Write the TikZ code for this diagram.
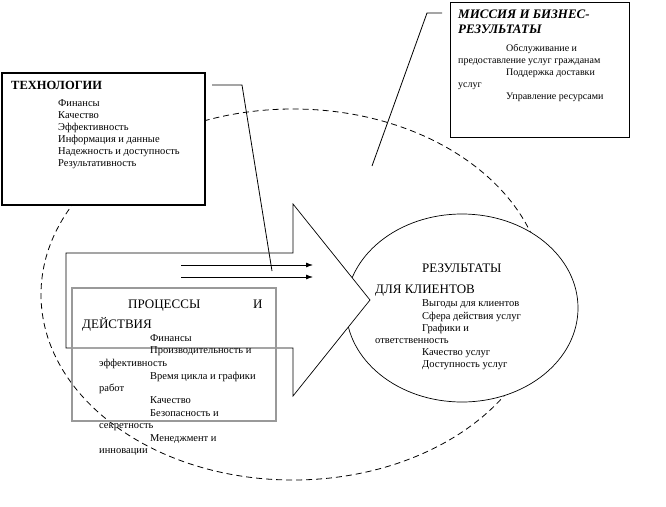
\documentclass[tikz,border=0pt]{standalone}
\usepackage{fontspec}
\setmainfont{Liberation Serif}
\usetikzlibrary{arrows.meta,shapes.geometric}
\tikzset{
  item/.style={anchor=base west, inner sep=0pt, font=\fontsize{10.5}{12}\selectfont},
  mitem/.style={anchor=base west, inner sep=0pt, font=\fontsize{10}{12}\selectfont},
  ttl/.style={anchor=base west, inner sep=0pt, font=\fontsize{13}{15}\selectfont},
  boxtitle/.style={anchor=base west, inner sep=0pt, font=\fontsize{12.5}{14}\selectfont\bfseries},
  misstitle/.style={anchor=base west, inner sep=0pt, font=\fontsize{13}{15}\selectfont\bfseries\itshape},
  frame/.style={draw, fill=white, rectangle, inner sep=0pt},
  conn/.style={draw, line width=0.8pt},
  flow/.style={draw, line width=0.8pt, -{Latex[length=7pt,width=5pt]}},
}
\begin{document}
\begin{tikzpicture}[x=1pt,y=-1pt]
\useasboundingbox (0,0) rectangle (666,506);
% big dashed ellipse
\draw[line width=0.8pt, dash pattern=on 6pt off 4pt] (293,294.5) ellipse [x radius=252pt, y radius=185.5pt];
% boxes
\node[frame, line width=1.1pt, minimum width=203pt, minimum height=132pt] (tech) at (103.5,139) {};
\node[frame, line width=1pt, minimum width=179pt, minimum height=135pt] (miss) at (539.5,69.5) {};
\node[ellipse, draw, fill=white, line width=0.7pt, minimum width=232pt, minimum height=188pt, inner sep=0pt] (res) at (462,308) {};
% big arrow
\draw[fill=white, line width=0.7pt] (66,253) -- (293,253) -- (293,204) -- (370,300) -- (293,396) -- (293,348) -- (66,348) -- cycle;
\node[draw=black!40, line width=1.2pt, rectangle, inner sep=0pt, minimum width=204pt, minimum height=133pt] (proc) at (174,354.5) {};
% connectors
\coordinate (t1) at (212,85);
\coordinate (t2) at (242,85);
\coordinate (t3) at (272,271);
\draw[conn] (t1) -- (t2) -- (t3);
\coordinate (m1) at (442,13);
\coordinate (m2) at (427,13);
\coordinate (m3) at (372,166);
\draw[conn] (m1) -- (m2) -- (m3);
\coordinate (a1) at (181,265);
\coordinate (b1) at (313,265);
\coordinate (a2) at (181,277);
\coordinate (b2) at (313,277);
\draw[flow] (a1) -- (b1);
\draw[flow] (a2) -- (b2);
% tech text
\node[boxtitle] (techT) at (11,89) {ТЕХНОЛОГИИ};
\node[item] (tech1) at (58,106) {Финансы};
\node[item] (tech2) at (58,118) {Качество};
\node[item] (tech3) at (58,130) {Эффективность};
\node[item] (tech4) at (58,142) {Информация и данные};
\node[item] (tech5) at (58,154) {Надежность и доступность};
\node[item] (tech6) at (58,166) {Результативность};
% mission text
\node[misstitle] (missT1) at (458,18) {МИССИЯ И БИЗНЕС-};
\node[misstitle] (missT2) at (458,33) {РЕЗУЛЬТАТЫ};
\node[mitem] (miss1) at (506,51) {Обслуживание и};
\node[mitem] (miss2) at (458,63) {предоставление услуг гражданам};
\node[mitem] (miss3) at (506,75) {Поддержка доставки};
\node[mitem] (miss4) at (458,87) {услуг};
\node[mitem] (miss5) at (506,99) {Управление ресурсами};
% process text
\node[ttl] (procT1) at (128,308) {ПРОЦЕССЫ};
\node[ttl] (procT2) at (253,308) {И};
\node[ttl] (procT3) at (82,328) {ДЕЙСТВИЯ};
\node[item] (proc1) at (150,341) {Финансы};
\node[item] (proc2) at (150,353) {Производительность и};
\node[item] (proc3) at (99,366) {эффективность};
\node[item] (proc4) at (150,379) {Время цикла и графики};
\node[item] (proc5) at (99,391) {работ};
\node[item] (proc6) at (150,403) {Качество};
\node[item] (proc7) at (150,416) {Безопасность и};
\node[item] (proc8) at (99,428) {секретность};
\node[item] (proc9) at (150,441) {Менеджмент и};
\node[item] (proc10) at (99,453) {инновации};
% results text
\node[ttl] (resT1) at (422,272) {РЕЗУЛЬТАТЫ};
\node[ttl] (resT2) at (375,293) {ДЛЯ КЛИЕНТОВ};
\node[item] (res1) at (422,306) {Выгоды для клиентов};
\node[item] (res2) at (422,319) {Сфера действия услуг};
\node[item] (res3) at (422,331) {Графики и};
\node[item] (res4) at (375,343) {ответственность};
\node[item] (res5) at (422,355) {Качество услуг};
\node[item] (res6) at (422,367) {Доступность услуг};
\end{tikzpicture}
\end{document}
